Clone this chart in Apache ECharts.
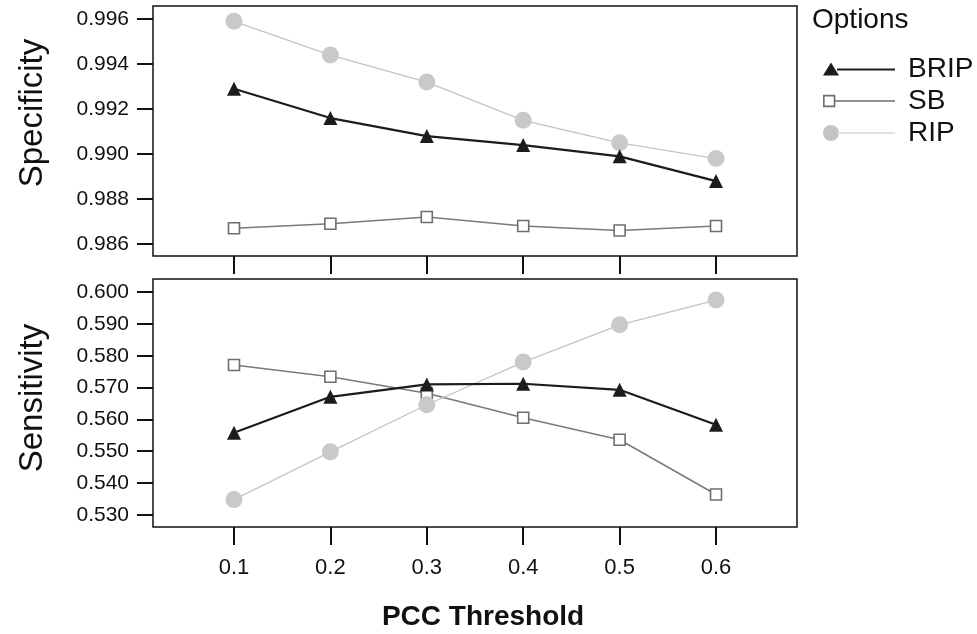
<!DOCTYPE html>
<html>
<head>
<meta charset="utf-8">
<script src="https://cdn.jsdelivr.net/npm/echarts@6/dist/echarts.min.js"></script>
<style>
  html, body { margin: 0; padding: 0; background: #ffffff; }
  #chart { width: 977px; height: 634px; }
</style>
</head>
<body>
<div id="chart"></div>
<script>
// PCC threshold values (x positions shared by both panels)
const thresholds = [0.1, 0.2, 0.3, 0.4, 0.5, 0.6];
const thresholdLabels = ['0.1', '0.2', '0.3', '0.4', '0.5', '0.6'];

// Specificity per method
const specBRIP = [0.9929, 0.9916, 0.9908, 0.9904, 0.9899, 0.9888];
const specSB   = [0.9867, 0.9869, 0.9872, 0.9868, 0.9866, 0.9868];
const specRIP  = [0.9959, 0.9944, 0.9932, 0.9915, 0.9905, 0.9898];

// Sensitivity per method
const sensBRIP = [0.5558, 0.5671, 0.5710, 0.5712, 0.5693, 0.5583];
const sensSB   = [0.5771, 0.5734, 0.5682, 0.5605, 0.5536, 0.5364];
const sensRIP  = [0.5348, 0.5498, 0.5646, 0.5780, 0.5897, 0.5975];

// Tick values on the two value axes
const specTicks = [0.986, 0.988, 0.990, 0.992, 0.994, 0.996];
const sensTicks = [0.530, 0.540, 0.550, 0.560, 0.570, 0.580, 0.590, 0.600];

const methods = ['BRIP', 'SB', 'RIP'];

const pairs = (ys) => thresholds.map((x, i) => [x, ys[i]]);

const FONT = '"Liberation Sans", Arial, sans-serif';
const INK = '#111111';

const styles = {
  BRIP: {
    symbol: 'triangle', symbolSize: 14, z: 5,
    lineStyle: { color: '#1c1c1c', width: 2.2 },
    itemStyle: { color: '#1c1c1c' }
  },
  SB: {
    symbol: 'rect', symbolSize: 11, z: 3,
    lineStyle: { color: '#7a7a7a', width: 1.6 },
    itemStyle: { color: '#ffffff', borderColor: '#6e6e6e', borderWidth: 1.6 }
  },
  RIP: {
    symbol: 'circle', symbolSize: 17, z: 4,
    lineStyle: { color: '#c4c4c4', width: 1.3 },
    itemStyle: { color: '#c9c9c9' }
  }
};

function makeSeries(name, ys, gridIdx) {
  const s = styles[name];
  return {
    name: name,
    type: 'line',
    xAxisIndex: gridIdx,
    yAxisIndex: gridIdx,
    data: pairs(ys),
    symbol: s.symbol,
    symbolSize: s.symbolSize,
    showAllSymbol: true,
    z: s.z,
    lineStyle: s.lineStyle,
    itemStyle: s.itemStyle,
    emphasis: { disabled: true },
    animation: false
  };
}

// Legend glyphs: marker on the left end of a short line
const legendIcons = {
  BRIP: 'path://M0 14 L8 1 L16 14 Z M14 7 L72 7 L72 9 L14 9 Z',
  SB: 'path://M2 2 L14 2 L14 14 L2 14 Z M3.6 3.6 L3.6 12.4 L12.4 12.4 L12.4 3.6 Z M14 7.3 L72 7.3 L72 8.7 L14 8.7 Z',
  RIP: 'path://M0 8 A8 8 0 1 0 16 8 A8 8 0 1 0 0 8 Z M15 7.4 L72 7.4 L72 8.6 L15 8.6 Z'
};
const legendColors = { BRIP: '#1c1c1c', SB: '#6e6e6e', RIP: '#c4c4c4' };

function xAxisFor(gridIdx, withLabels) {
  return {
    type: 'value',
    gridIndex: gridIdx,
    min: 0.016,
    max: 0.684,
    splitLine: { show: false },
    axisLine: { show: false },
    axisTick: {
      show: true, inside: false, length: 18,
      customValues: thresholds,
      lineStyle: { color: INK, width: 2 }
    },
    axisLabel: withLabels ? {
      show: true, margin: 30,
      customValues: thresholds,
      formatter: (v) => thresholdLabels[thresholds.indexOf(Math.round(v * 10) / 10)] || '',
      fontFamily: FONT, fontSize: 22, color: INK
    } : { show: false },
    name: withLabels ? 'PCC Threshold' : '',
    nameLocation: 'middle',
    nameGap: 76,
    nameTextStyle: { fontFamily: FONT, fontSize: 28, fontWeight: 'bold', color: INK, padding: [0, 0, 0, 16] }
  };
}

function yAxisFor(gridIdx, min, max, ticks, name, namePad) {
  return {
    type: 'value',
    gridIndex: gridIdx,
    min: min,
    max: max,
    splitLine: { show: false },
    axisLine: { show: false },
    axisTick: {
      show: true, inside: false, length: 16,
      customValues: ticks,
      lineStyle: { color: INK, width: 2 }
    },
    axisLabel: {
      show: true, margin: 24,
      customValues: ticks,
      formatter: (v) => v.toFixed(3),
      fontFamily: FONT, fontSize: 21, color: INK
    },
    name: name,
    nameLocation: 'middle',
    nameRotate: 90,
    nameGap: 104,
    nameTextStyle: { fontFamily: FONT, fontSize: 33, color: INK, padding: namePad }
  };
}

const chart = echarts.init(document.getElementById('chart'), null, { renderer: 'canvas' });

chart.setOption({
  backgroundColor: '#ffffff',
  animation: false,
  title: {
    text: 'Options',
    left: 812, top: 6, padding: 0,
    textStyle: { fontFamily: FONT, fontSize: 28, fontWeight: 'normal', color: INK }
  },
  legend: {
    orient: 'vertical',
    left: 818, top: 48,
    itemWidth: 72, itemHeight: 16,
    itemGap: 0,
    selectedMode: false,
    data: methods.map((m) => ({
      name: m,
      icon: legendIcons[m],
      itemStyle: { color: legendColors[m], borderWidth: 0 }
    })),
    textStyle: { fontFamily: FONT, fontSize: 28, color: INK, lineHeight: 32, padding: [0, 0, 0, 8] }
  },
  grid: [
    { left: 153, right: 180, top: 6, height: 250, show: true, borderColor: INK, borderWidth: 1.5, backgroundColor: 'transparent' },
    { left: 153, right: 180, top: 279, height: 248, show: true, borderColor: INK, borderWidth: 1.5, backgroundColor: 'transparent' }
  ],
  xAxis: [xAxisFor(0, false), xAxisFor(1, true)],
  yAxis: [
    yAxisFor(0, 0.98547, 0.99658, specTicks, 'Specificity', [0, 0, 0, 36]),
    yAxisFor(1, 0.5262, 0.6041, sensTicks, 'Sensitivity', [0, 0, 0, 10])
  ],
  series: [
    makeSeries('SB', specSB, 0),
    makeSeries('RIP', specRIP, 0),
    makeSeries('BRIP', specBRIP, 0),
    makeSeries('SB', sensSB, 1),
    makeSeries('RIP', sensRIP, 1),
    makeSeries('BRIP', sensBRIP, 1)
  ]
});
</script>
</body>
</html>
